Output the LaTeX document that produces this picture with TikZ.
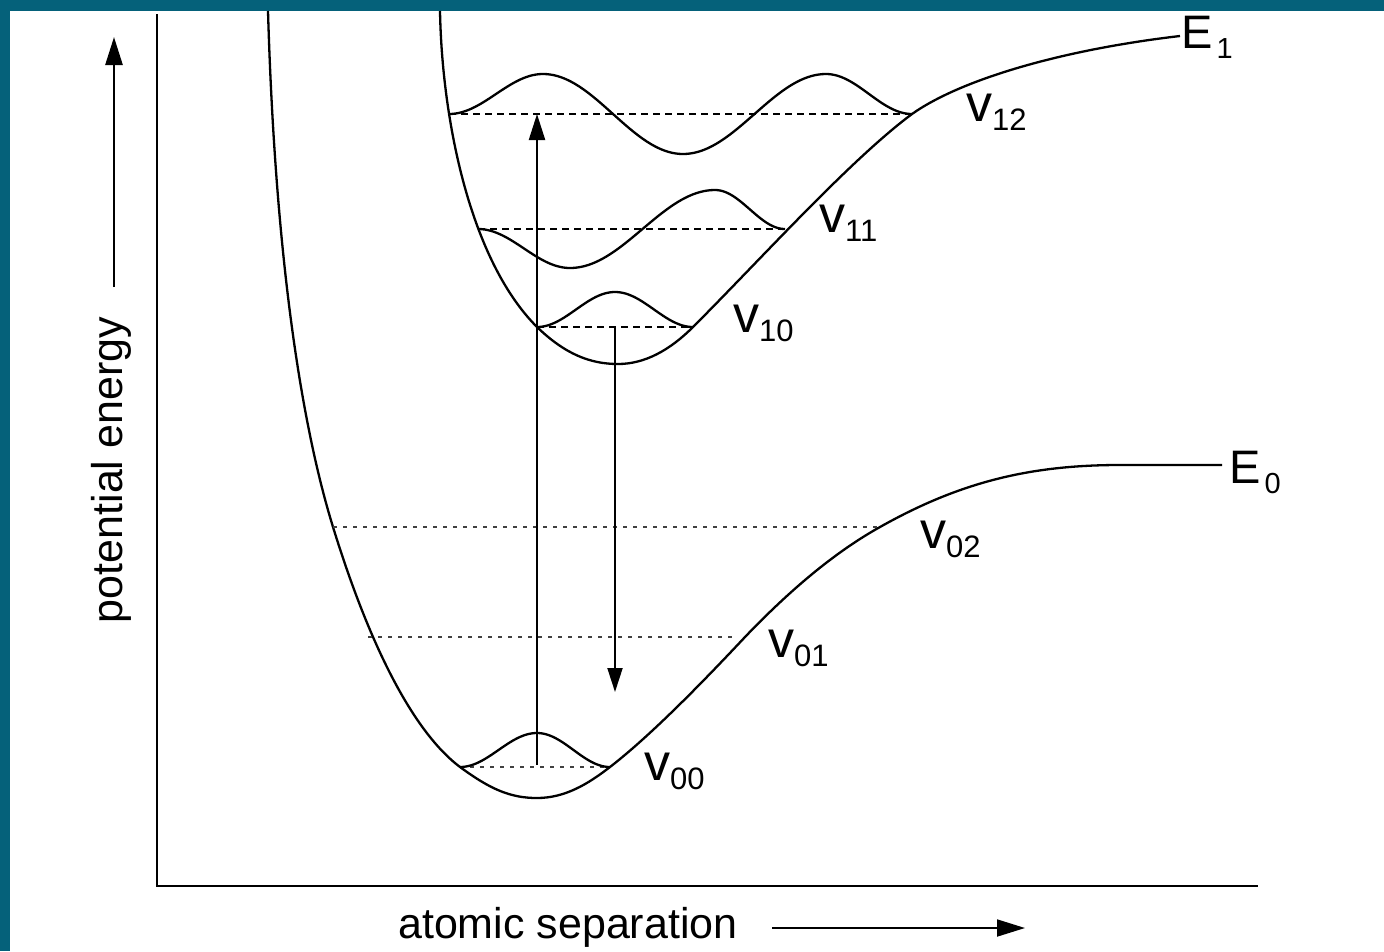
\documentclass[tikz,border=0pt]{standalone}
\usepackage{fontspec}
\setmainfont{Liberation Sans}
\usetikzlibrary{arrows.meta}
\definecolor{frameteal}{RGB}{5,97,122}
\newcommand{\lvlabel}[1]{{\fontsize{52}{52}\selectfont v}\raisebox{-9pt}{\fontsize{31}{31}\selectfont #1}}
\newcommand{\elabel}[1]{{\fontsize{47}{47}\selectfont E}\kern4pt\raisebox{-10pt}{\fontsize{29}{29}\selectfont #1}}
\tikzset{
  curve/.style={line width=2.3pt, line join=round},
  wave/.style={line width=2.3pt, line join=round},
  axis/.style={line width=2.8pt},
  upper/.style={line width=2.4pt, dash pattern=on 7pt off 5pt},
  lower/.style={line width=1.5pt, dash pattern=on 4pt off 6pt, black!75},
  lbl/.style={inner sep=0pt, anchor=base west},
}
\begin{document}
\begin{tikzpicture}[x=1pt,y=-1pt]
\useasboundingbox (0,0) rectangle (1384,951);
\fill[white] (0,0) rectangle (1384,951);
\fill[frameteal] (0,0) rectangle (1384,10.5);
\fill[frameteal] (0,0) rectangle (10,951);

% axes
\coordinate (origin) at (157,886);
\coordinate (ytop) at (157,14);
\coordinate (xend) at (1258,886);
\draw[axis] (ytop) -- (origin) -- (xend);

% axis labels
\coordinate (ua0) at (114,287);
\coordinate (ua1) at (114,37);
\draw[line width=2.6pt, -{Triangle[length=28pt,width=17pt]}] (ua0) -- (ua1);
\node[rotate=90, inner sep=0pt, font=\fontsize{43}{43}\selectfont] (ylab) at (111,470) {potential energy};
\node[lbl, font=\fontsize{43}{43}\selectfont] (xlab) at (398,938) {atomic separation};
\coordinate (ra0) at (772,928);
\coordinate (ra1) at (1025,928);
\draw[line width=1.8pt, -{Triangle[length=28pt,width=17pt]}] (ra0) -- (ra1);

% ground state potential E0
\draw[curve] (268,11) .. controls (275,250) and (300,420) .. (333,527)
  .. controls (350,582) and (395,718) .. (460,767)
  .. controls (490,789) and (510,798) .. (537,798)
  .. controls (565,798) and (588,784) .. (610,767)
  .. controls (650,736) and (700,685) .. (745,637)
  .. controls (790,590) and (835,552) .. (880,527)
  .. controls (960,482) and (1030,465) .. (1120,465)
  -- (1222,465);
% excited state potential E1
\draw[curve] (440,11) .. controls (442,120) and (470,260) .. (537,327)
  .. controls (565,354) and (590,364) .. (618,364)
  .. controls (645,364) and (670,350) .. (693,327)
  .. controls (760,260) and (850,160) .. (912,114)
  .. controls (960,80) and (1060,50) .. (1180,36);

% vibrational levels
\coordinate (l12a) at (449,114); \coordinate (l12b) at (912,114);
\coordinate (l11a) at (478,229); \coordinate (l11b) at (785,229);
\coordinate (l10a) at (537,327); \coordinate (l10b) at (693,327);
\coordinate (l02a) at (333,527); \coordinate (l02b) at (880,527);
\coordinate (l01a) at (368,637); \coordinate (l01b) at (735,637);
\coordinate (l00a) at (460,767); \coordinate (l00b) at (610,767);
\draw[upper] (l12a) -- (l12b);
\draw[upper] (l11a) -- (l11b);
\draw[upper] (l10a) -- (l10b);
\draw[lower] (l02a) -- (l02b);
\draw[lower] (l01a) -- (l01b);
\draw[lower, line width=1.3pt] (l00a) -- (l00b);

% wavefunctions
\draw[wave] plot[domain=449:543, samples=30] (\x,{114+(74-114)*(1-cos((\x-449)/94*180))/2})
  -- plot[domain=543:683, samples=40] (\x,{74+(154-74)*(1-cos((\x-543)/140*180))/2})
  -- plot[domain=683:826, samples=40] (\x,{154+(74-154)*(1-cos((\x-683)/143*180))/2})
  -- plot[domain=826:912, samples=30] (\x,{74+(114-74)*(1-cos((\x-826)/86*180))/2});
\draw[wave] plot[domain=478:570, samples=30] (\x,{229+(268-229)*(1-cos((\x-478)/92*180))/2})
  -- plot[domain=570:715, samples=40] (\x,{268+(190-268)*(1-cos((\x-570)/145*180))/2})
  -- plot[domain=715:785, samples=30] (\x,{190+(229-190)*(1-cos((\x-715)/70*180))/2});
\draw[wave] plot[domain=537:615, samples=30] (\x,{327+(292-327)*(1-cos((\x-537)/78*180))/2})
  -- plot[domain=615:693, samples=30] (\x,{292+(327-292)*(1-cos((\x-615)/78*180))/2});
\draw[wave] plot[domain=460:537, samples=30] (\x,{767+(733-767)*(1-cos((\x-460)/77*180))/2})
  -- plot[domain=537:610, samples=30] (\x,{733+(767-733)*(1-cos((\x-537)/73*180))/2});

% transitions
\coordinate (absfrom) at (537,765);
\coordinate (absto) at (537,114);
\coordinate (emfrom) at (615,327);
\coordinate (emto) at (615,692);
\draw[line width=2.2pt, -{Triangle[length=26pt,width=16pt]}] (absfrom) -- (absto);
\draw[line width=2pt, -{Triangle[length=24pt,width=15pt]}] (emfrom) -- (emto);

% labels
\node[lbl] (v12) at (966,121) {\lvlabel{12}};
\node[lbl] (v11) at (819,232) {\lvlabel{11}};
\node[lbl] (v10) at (733,332) {\lvlabel{10}};
\node[lbl] (v02) at (920,548) {\lvlabel{02}};
\node[lbl] (v01) at (768,657) {\lvlabel{01}};
\node[lbl] (v00) at (644,780) {\lvlabel{00}};
\node[lbl] (e1) at (1181,48) {\elabel{1}};
\node[lbl] (e0) at (1229,483) {\elabel{0}};
\end{tikzpicture}
\end{document}
